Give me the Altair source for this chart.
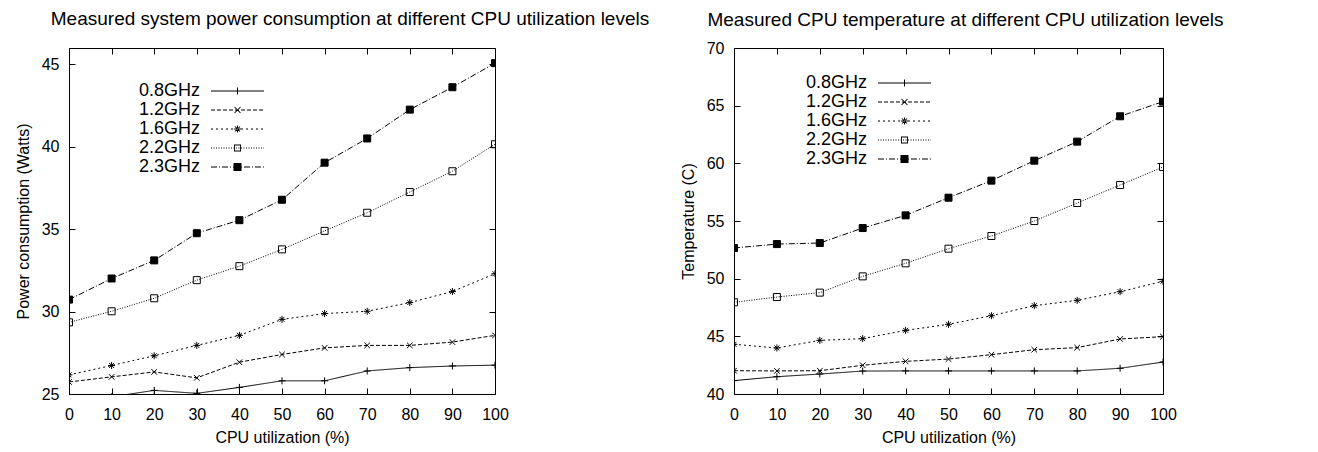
import altair as alt
import pandas as pd

# ---------------- data ----------------
UTIL = [0, 10, 20, 30, 40, 50, 60, 70, 80, 90, 100]
SERIES = ["0.8GHz", "1.2GHz", "1.6GHz", "2.2GHz", "2.3GHz"]

POWER_08 = [24.80, 24.83, 25.22, 25.04, 25.40, 25.80, 25.80, 26.40, 26.60, 26.70, 26.75]
POWER_12 = [25.73, 26.04, 26.34, 25.98, 26.93, 27.40, 27.80, 27.95, 27.95, 28.15, 28.56]
POWER_16 = [26.16, 26.73, 27.32, 27.95, 28.56, 29.53, 29.88, 30.02, 30.55, 31.22, 32.30]
POWER_22 = [29.35, 30.02, 30.81, 31.91, 32.76, 33.78, 34.90, 36.00, 37.26, 38.52, 40.16]
POWER_23 = [30.73, 32.01, 33.11, 34.76, 35.55, 36.79, 39.04, 40.51, 42.26, 43.62, 45.08]

TEMP_08 = [41.16, 41.50, 41.73, 41.99, 42.00, 42.00, 42.00, 42.00, 42.00, 42.23, 42.77]
TEMP_12 = [42.02, 42.00, 42.02, 42.49, 42.83, 43.03, 43.41, 43.84, 44.02, 44.77, 44.97]
TEMP_16 = [44.31, 43.99, 44.65, 44.80, 45.52, 46.04, 46.79, 47.66, 48.12, 48.87, 49.77]
TEMP_22 = [47.95, 48.41, 48.79, 50.20, 51.33, 52.60, 53.70, 55.00, 56.56, 58.12, 59.68]
TEMP_23 = [52.66, 53.00, 53.09, 54.39, 55.49, 57.02, 58.50, 60.23, 61.88, 64.08, 65.35]

X_TICKS = [0, 10, 20, 30, 40, 50, 60, 70, 80, 90, 100]
POWER_TICKS = [25, 30, 35, 40, 45]
TEMP_TICKS = [40, 45, 50, 55, 60, 65, 70]
POWER_DOMAIN = [25, 46]
TEMP_DOMAIN = [40, 70]

# ---------------- styles ----------------
FONT = "Liberation Sans"
DASHES = [[1, 0], [4, 2], [2, 3], [1, 1.5], [6, 2, 1, 2]]
MARKERS = [
    "M-1,0L1,0M0,-1L0,1",
    "M-0.8,-0.8L0.8,0.8M-0.8,0.8L0.8,-0.8",
    "M-1,0L1,0M0,-1L0,1M-0.7,-0.7L0.7,0.7M-0.7,0.7L0.7,-0.7",
    "square",
    "square",
]
FILLS = ["transparent", "transparent", "transparent", "transparent", "black"]
TICK = 6

# legend sample glyphs (drawn as filled outlines, in px, unit = 8 px),
# shifted right so the sample sits after the label, as in gnuplot keys
LEG_UNIT = 8.0
LEG_HALF = 26.5
LEG_SHIFT = 107.5


def _f(v):
    return f"{v / LEG_UNIT:.4f}"


def _p(x, y):
    return f"{_f(x + LEG_SHIFT)},{_f(y)}"


def _rect(x0, x1, y0, y1):
    return f"M{_p(x0, y0)}L{_p(x1, y0)}L{_p(x1, y1)}L{_p(x0, y1)}Z"


def _seg(x0, y0, x1, y1, t=0.5):
    dx, dy = x1 - x0, y1 - y0
    n = (dx * dx + dy * dy) ** 0.5
    px, py = -dy / n * t, dx / n * t
    return (f"M{_p(x0 + px, y0 + py)}L{_p(x1 + px, y1 + py)}"
            f"L{_p(x1 - px, y1 - py)}L{_p(x0 - px, y0 - py)}Z")


def _dash_line(pattern):
    out, x, i = [], -LEG_HALF, 0
    while x < LEG_HALF:
        step = pattern[i % len(pattern)]
        if i % 2 == 0 and step > 0:
            out.append(_rect(x, min(x + step, LEG_HALF), -0.5, 0.5))
        x += step
        i += 1
    return "".join(out)


def _legend_glyph(k):
    line = _rect(-LEG_HALF, LEG_HALF, -0.5, 0.5) if k == 0 else _dash_line(DASHES[k])
    if k == 0:
        mk = _rect(-0.5, 0.5, -3.5, 3.5)
    elif k == 1:
        mk = _seg(-3, -3, 3, 3) + _seg(-3, 3, 3, -3)
    elif k == 2:
        mk = (_rect(-3.5, 3.5, -0.5, 0.5) + _rect(-0.5, 0.5, -3.5, 3.5)
              + _seg(-2.5, -2.5, 2.5, 2.5) + _seg(-2.5, 2.5, 2.5, -2.5))
    elif k == 3:
        mk = (f"M{_p(-3.5, -3.5)}L{_p(3.5, -3.5)}L{_p(3.5, 3.5)}L{_p(-3.5, 3.5)}Z"
              f"M{_p(-2.6, -2.6)}L{_p(-2.6, 2.6)}L{_p(2.6, 2.6)}L{_p(2.6, -2.6)}Z")
    else:
        mk = _rect(-4, 4, -4, 4)
    return line + mk


LEGEND_SHAPES = [_legend_glyph(k) for k in range(len(SERIES))]


def long_df(cols):
    rows = []
    for name, vals in zip(SERIES, cols):
        for u, v in zip(UTIL, vals):
            rows.append({"util": u, "value": v, "series": name})
    return pd.DataFrame(rows)


def panel(df, title, title_dx, title_offset, ytitle, ydomain, yticks, w, h,
          leg_x, leg_y):
    xscale = alt.Scale(domain=[0, 100], nice=False, zero=False)
    yscale = alt.Scale(domain=ydomain, nice=False, zero=False)

    def xax(orient, main=False):
        if main:
            return alt.Axis(orient=orient, values=X_TICKS, ticks=False, tickSize=0,
                            domain=False, grid=False, labelFlush=False,
                            labelPadding=12, title="CPU utilization (%)",
                            titlePadding=7)
        return alt.Axis(orient=orient, values=X_TICKS, ticks=True, tickSize=TICK,
                        offset=-TICK, labels=False, domain=False, grid=False,
                        title=None)

    def yax(orient, main=False):
        if main:
            return alt.Axis(orient=orient, values=yticks, ticks=False, tickSize=0,
                            domain=False, grid=False, labelFlush=False,
                            labelPadding=10, title=ytitle, titlePadding=10)
        return alt.Axis(orient=orient, values=yticks, ticks=True, tickSize=TICK,
                        offset=-TICK, labels=False, domain=False, grid=False,
                        title=None)

    dash_scale = alt.Scale(domain=SERIES, range=DASHES)
    fill_scale = alt.Scale(domain=SERIES, range=FILLS)
    leg = alt.Legend(orient="none", legendX=leg_x, legendY=leg_y, title=None,
                     symbolSize=LEG_UNIT * LEG_UNIT * 4, symbolStrokeWidth=0,
                     symbolFillColor="black", symbolOpacity=1,
                     labelOffset=0, labelFontSize=18, labelFont=FONT,
                     labelColor="black", padding=0, rowPadding=1)

    base = alt.Chart(df)

    lines = base.mark_line(clip=True, strokeWidth=1, color="black").encode(
        x=alt.X("util:Q", scale=xscale, axis=xax("bottom", True)),
        y=alt.Y("value:Q", scale=yscale, axis=yax("left", True)),
        strokeDash=alt.StrokeDash("series:N", scale=dash_scale, legend=None),
    )

    points = base.mark_point(clip=True, size=49, strokeWidth=1, color="black",
                             opacity=1).encode(
        x=alt.X("util:Q", scale=xscale, axis=xax("bottom")),
        y=alt.Y("value:Q", scale=yscale, axis=yax("left")),
        shape=alt.Shape("series:N", scale=alt.Scale(domain=SERIES, range=MARKERS),
                        legend=None),
        fill=alt.Fill("series:N", scale=fill_scale, legend=None),
    )

    legend_layer = base.transform_filter("false").mark_point(
        filled=True, color="black", opacity=1).encode(
        x=alt.X("util:Q", scale=xscale, axis=xax("top")),
        y=alt.Y("value:Q", scale=yscale, axis=yax("right")),
        shape=alt.Shape("series:N",
                        scale=alt.Scale(domain=SERIES, range=LEGEND_SHAPES),
                        legend=leg),
    )

    return alt.layer(lines, points, legend_layer).resolve_scale(
        shape="independent"
    ).resolve_axis(x="independent", y="independent").properties(
        width=w, height=h,
        title=alt.TitleParams(title, fontSize=19, font=FONT, fontWeight="normal",
                              color="black", dx=title_dx, offset=title_offset,
                              frame="group"),
    )


left = panel(long_df([POWER_08, POWER_12, POWER_16, POWER_22, POWER_23]),
             "Measured system power consumption at different CPU utilization levels",
             68, 19, "Power consumption (Watts)", POWER_DOMAIN, POWER_TICKS,
             426, 346, 52, 34)
right = panel(long_df([TEMP_08, TEMP_12, TEMP_16, TEMP_22, TEMP_23]),
              "Measured CPU temperature at different CPU utilization levels",
              17, 10, "Temperature (C)", TEMP_DOMAIN, TEMP_TICKS,
              429, 346, 54, 26)

chart = alt.hconcat(left, right, spacing=239, bounds="flush").configure_view(
    stroke="black", strokeWidth=1
).configure_axis(
    labelFont=FONT, titleFont=FONT, labelFontSize=16, titleFontSize=16,
    labelColor="black", titleColor="black", titleFontWeight="normal",
    tickColor="black", tickWidth=1,
).properties(padding={"left": 6, "top": 1, "right": 5, "bottom": 5})

chart.save("out.html", embed_options={"renderer": "svg", "actions": False})
